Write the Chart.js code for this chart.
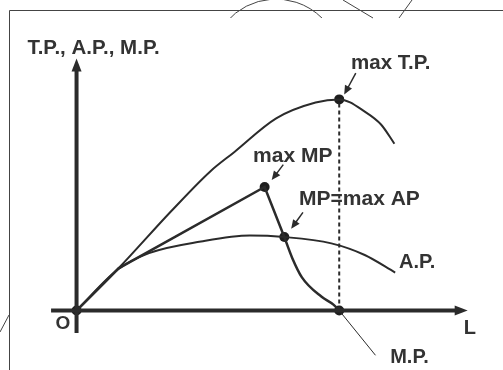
<!DOCTYPE html>
<html>
<head>
<meta charset="utf-8">
<script src="https://cdn.jsdelivr.net/npm/chart.js@4/dist/chart.umd.min.js"></script>
<style>
  html, body { margin: 0; padding: 0; background: #fff; }
  #wrap { position: relative; width: 503px; height: 370px; }
</style>
</head>
<body>
<div id="wrap"><canvas id="chart" width="503" height="370"></canvas></div>
<script>
"use strict";

// Total product curve (L = labour, value = output)
const TP_L = [0, 1.6, 3.6, 5.1, 6.0, 7.6, 9.1, 10, 11.0, 11.6, 12.1];
const TP   = [0, 20, 47, 66, 75, 91, 98.5, 100, 94, 88, 79];

// Average product curve
const AP_L = [0, 1.57, 2.76, 4.74, 6.6, 7.91, 9.7, 10.97, 12.13];
const AP   = [0, 19.4, 27.2, 32.7, 35.5, 34.8, 31.8, 26.3, 18.0];

// Marginal product: rising straight part, falling curve, below-zero tail
const MP_UP_L   = [0, 1.6, 7.16, 7.91];
const MP_UP     = [0, 20, 58.5, 34.8];
const MP_DOWN_L = [7.91, 8.21, 8.58, 9.33, 9.78, 10];
const MP_DOWN   = [34.8, 24.9, 15.7, 6.5, 2.8, 0];
const MP_TAIL_L = [10, 11.38];
const MP_TAIL   = [0, -21.2];

// Marked points: origin, max TP, max MP, MP = max AP, MP = 0
const DOT_L = [0, 10, 7.16, 7.91, 10];
const DOT   = [0, 100, 58.5, 34.8, 0];

// Axes and pointer arrows: [fromL, fromV, toL, toV, width]
const ARROWS = [
  [0, -10.6, 0, 119.4, 4],
  [-0.97, 0, 14.89, 0, 4],
  [10.63, 112.4, 10.19, 102.3, 1.5],
  [7.87, 69.1, 7.43, 61.8, 1.5],
  [8.62, 46.5, 8.17, 38.7, 1.5],
];

// Text labels: [text, L, value, size]
const LABELS = [
  ["T.P., A.P., M.P.", -1.87, 124.0, 20.5],
  ["max T.P.", 10.45, 117.1, 20.5],
  ["max MP", 6.72, 73.3, 21],
  ["MP=max AP", 8.47, 52.5, 21],
  ["A.P.", 12.28, 22.6, 20],
  ["L", 14.74, -8.3, 20],
  ["M.P.", 11.94, -22.1, 20],
  ["O", -0.8, -6.5, 19],
];

const INK = "#2b2b2b";
const pts = (xs, ys) => xs.map((x, i) => ({ x, y: ys[i] }));

function arrow(ctx, x1, y1, x2, y2, w) {
  const ang = Math.atan2(y2 - y1, x2 - x1);
  const head = w > 2 ? 13 : 9;
  const half = w > 2 ? 5 : 4;
  const bx = x2 - Math.cos(ang) * head, by = y2 - Math.sin(ang) * head;
  ctx.strokeStyle = INK;
  ctx.fillStyle = INK;
  ctx.lineWidth = w;
  ctx.beginPath();
  ctx.moveTo(x1, y1);
  ctx.lineTo(bx + Math.cos(ang), by + Math.sin(ang));
  ctx.stroke();
  ctx.beginPath();
  ctx.moveTo(x2, y2);
  ctx.lineTo(bx - Math.sin(ang) * half, by + Math.cos(ang) * half);
  ctx.lineTo(bx + Math.sin(ang) * half, by - Math.cos(ang) * half);
  ctx.closePath();
  ctx.fill();
}

// frame edge and bits of the neighbouring figure seen at the crop edges
const framePlugin = {
  id: "frame",
  beforeDatasetsDraw(chart) {
    const ctx = chart.ctx;
    ctx.save();
    ctx.strokeStyle = "#444";
    ctx.lineWidth = 1;
    ctx.beginPath();
    ctx.moveTo(9.5, 370); ctx.lineTo(9.5, 10.5); ctx.lineTo(503, 10.5);
    ctx.moveTo(0, 332); ctx.lineTo(9, 315);
    ctx.moveTo(343, 0); ctx.lineTo(373, 18);
    ctx.moveTo(399, 18); ctx.lineTo(412, 0);
    ctx.stroke();
    ctx.save();
    ctx.beginPath();
    ctx.rect(0, 0, 503, 18);
    ctx.clip();
    ctx.beginPath();
    ctx.arc(276, 64.4, 65.3, Math.PI * 1.1, Math.PI * 1.9);
    ctx.stroke();
    ctx.restore();
    ctx.restore();
  },
};

const annotPlugin = {
  id: "annot",
  afterDatasetsDraw(chart) {
    const { ctx, scales: { x, y } } = chart;
    ctx.save();
    ARROWS.forEach(a => arrow(ctx, x.getPixelForValue(a[0]), y.getPixelForValue(a[1]),
      x.getPixelForValue(a[2]), y.getPixelForValue(a[3]), a[4]));
    ctx.fillStyle = "#333";
    ctx.textBaseline = "middle";
    ctx.textAlign = "left";
    LABELS.forEach(([t, l, v, s]) => {
      ctx.font = `bold ${s}px "Liberation Sans", Arial, sans-serif`;
      ctx.fillText(t, x.getPixelForValue(l), y.getPixelForValue(v));
    });
    ctx.restore();
  },
};

const lineDs = (data, extra) => Object.assign({
  data,
  borderColor: INK,
  borderWidth: 2,
  pointRadius: 0,
  fill: false,
  cubicInterpolationMode: "monotone",
}, extra);

new Chart(document.getElementById("chart"), {
  type: "line",
  data: {
    datasets: [
      lineDs(pts(TP_L, TP)),
      lineDs(pts(AP_L, AP)),
      lineDs(pts(MP_UP_L, MP_UP), { tension: 0, cubicInterpolationMode: "default", borderWidth: 2.5 }),
      lineDs(pts(MP_DOWN_L, MP_DOWN), { borderWidth: 2.5 }),
      lineDs(pts(MP_TAIL_L, MP_TAIL), { tension: 0, cubicInterpolationMode: "default", borderWidth: 1 }),
      lineDs([{ x: 10, y: 0 }, { x: 10, y: 100 }], { tension: 0, cubicInterpolationMode: "default", borderDash: [4, 3] }),
      {
        type: "scatter",
        data: pts(DOT_L, DOT),
        pointRadius: 5,
        pointBackgroundColor: "#1e1e1e",
        pointBorderWidth: 0,
      },
    ],
  },
  options: {
    responsive: false,
    animation: false,
    events: [],
    layout: { padding: 0 },
    plugins: { legend: { display: false }, tooltip: { enabled: false } },
    scales: {
      x: { type: "linear", display: false, min: -73 / 26.8, max: 430 / 26.8 },
      y: { type: "linear", display: false, min: -56 / 2.17, max: 314 / 2.17 },
    },
  },
  plugins: [framePlugin, annotPlugin],
});
</script>
</body>
</html>
